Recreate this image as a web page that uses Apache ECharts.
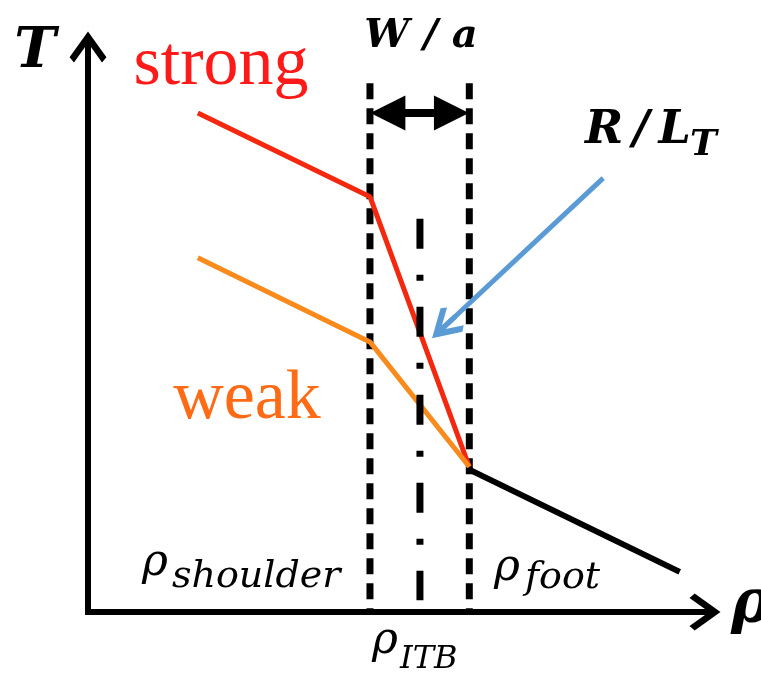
<!DOCTYPE html>
<html><head><meta charset="utf-8">
<script src="https://cdn.jsdelivr.net/npm/echarts@6/dist/echarts.min.js"></script>
<style>html,body{margin:0;padding:0;background:#fff}#c{width:761px;height:674px}</style>
</head><body><div id="c"></div>
<script>
// schematic units: rho 0..10, T 0..10
const strongRho = [1.78, 4.57, 6.18];
const strongT   = [8.83, 7.35, 2.57];
const weakRho   = [1.78, 4.57, 6.18];
const weakT     = [6.27, 4.78, 2.57];
const footRho   = [6.18, 9.59];
const footT     = [2.52, 0.71];
const rhoShoulder = 4.57;
const rhoITB = 5.38;
const rhoFoot = 6.18;
const boundaryTop = 9.36;
const itbTop = 6.96, itbBottom = 0.21;
const widthArrowT = 8.83;
const widthArrowHead = 0.29;
const gradientArrowFrom = [8.35, 7.68];
const gradientArrowTo = [5.765, 5.04];

const pairs = (xs, ys) => xs.map((x, i) => [x, ys[i]]);
const chevron = 'path://M50,0 L100,70 L88,84 L58,42 L58,84 L42,84 L42,42 L12,84 L0,70 Z';
const headPath = 'path://M50,0 L100,100 L0,100 Z';

const chart = echarts.init(document.getElementById('c'), null, {renderer: 'canvas'});
const axisCommon = {
  type: 'value', min: 0, max: 10,
  splitLine: {show: false}, axisTick: {show: false}, axisLabel: {show: false},
  axisLine: {show: true, symbol: ['none', chevron], symbolSize: [37, 31],
    lineStyle: {color: '#000', width: 6, cap: 'square'}}
};
const vline = (x, top, bottom, dash) => ({
  type: 'line', data: [[x, top], [x, bottom]], symbol: 'none', silent: true,
  lineStyle: {color: '#000', width: 7, type: dash}
});
chart.setOption({
  animation: false,
  backgroundColor: '#fff',
  grid: {left: 88, right: 56, top: 47, bottom: 62},
  xAxis: axisCommon,
  yAxis: axisCommon,
  series: [
    vline(rhoShoulder, boundaryTop, 0, [16, 9]),
    vline(rhoFoot, boundaryTop, 0, [16, 9]),
    {type: 'line', data: pairs(strongRho, strongT), symbol: 'none', lineStyle: {color: '#f4280f', width: 5}},
    {type: 'line', data: pairs(weakRho, weakT), symbol: 'none', lineStyle: {color: '#f98a1c', width: 5}},
    {type: 'line', data: pairs(footRho, footT), symbol: 'none', lineStyle: {color: '#000', width: 6}},
    Object.assign(vline(rhoITB, itbTop, itbBottom, [30, 26, 6, 26]), {
      markLine: {
        silent: true, symbol: [headPath, headPath], symbolSize: 35,
        label: {show: false},
        lineStyle: {color: '#000', width: 8, type: 'solid'},
        itemStyle: {color: '#000'},
        data: [[{coord: [rhoShoulder + widthArrowHead, widthArrowT]}, {coord: [rhoFoot - widthArrowHead, widthArrowT]}]]
      }
    }),
    {type: 'line', data: [], markLine: {
        silent: true, symbol: ['none', chevron], symbolSize: 32,
        label: {show: false},
        lineStyle: {color: '#5b9bd5', width: 5, type: 'solid'},
        itemStyle: {color: '#5b9bd5'},
        data: [[{coord: gradientArrowFrom}, {coord: gradientArrowTo}]]
    }}
  ],
  graphic: [
    {type: 'text', x: 35, y: 52, style: {text: 'T', font: 'bold italic 56px "DejaVu Serif"', fill: '#000', textAlign: 'center', textVerticalAlign: 'middle'}},
    {type: 'text', x: 221, y: 66, style: {text: 'strong', font: '70px "Liberation Serif"', fill: '#ff1a1a', textAlign: 'center', textVerticalAlign: 'middle'}},
    {type: 'text', x: 247, y: 400, style: {text: 'weak', font: '70px "Liberation Serif"', fill: '#ff6a14', textAlign: 'center', textVerticalAlign: 'middle'}},
    {type: 'text', x: 421, y: 37, style: {text: 'W / a', font: 'bold italic 40px "DejaVu Serif"', fill: '#000', textAlign: 'center', textVerticalAlign: 'middle'}},
    {type: 'text', x: 585, y: 131, style: {text: 'R\u2009/\u2009L', font: 'bold italic 46px "DejaVu Serif"', fill: '#000', textAlign: 'left', textVerticalAlign: 'middle'}},
    {type: 'text', x: 690, y: 146, style: {text: 'T', font: 'bold italic 36px "DejaVu Serif"', fill: '#000', textAlign: 'left', textVerticalAlign: 'middle'}},
    {type: 'text', x: 142, y: 564, style: {text: 'ρ', font: 'italic 44px "DejaVu Serif"', fill: '#000', textAlign: 'left', textVerticalAlign: 'middle'}},
    {type: 'text', x: 172, y: 577, style: {text: 'shoulder', font: 'italic 38px "DejaVu Serif"', fill: '#000', textAlign: 'left', textVerticalAlign: 'middle'}},
    {type: 'text', x: 494, y: 569, style: {text: 'ρ', font: 'italic 44px "DejaVu Serif"', fill: '#000', textAlign: 'left', textVerticalAlign: 'middle'}},
    {type: 'text', x: 525, y: 578, style: {text: 'foot', font: 'italic 38px "DejaVu Serif"', fill: '#000', textAlign: 'left', textVerticalAlign: 'middle'}},
    {type: 'text', x: 372, y: 642, style: {text: 'ρ', font: 'italic 44px "DejaVu Serif"', fill: '#000', textAlign: 'left', textVerticalAlign: 'middle'}},
    {type: 'text', x: 400, y: 660, style: {text: 'ITB', font: 'italic 32px "DejaVu Serif"', fill: '#000', textAlign: 'left', textVerticalAlign: 'middle'}},
    {type: 'text', x: 731, y: 606, style: {text: 'ρ', font: 'bold italic 60px "DejaVu Serif"', fill: '#000', textAlign: 'left', textVerticalAlign: 'middle'}}
  ]
});
</script></body></html>
